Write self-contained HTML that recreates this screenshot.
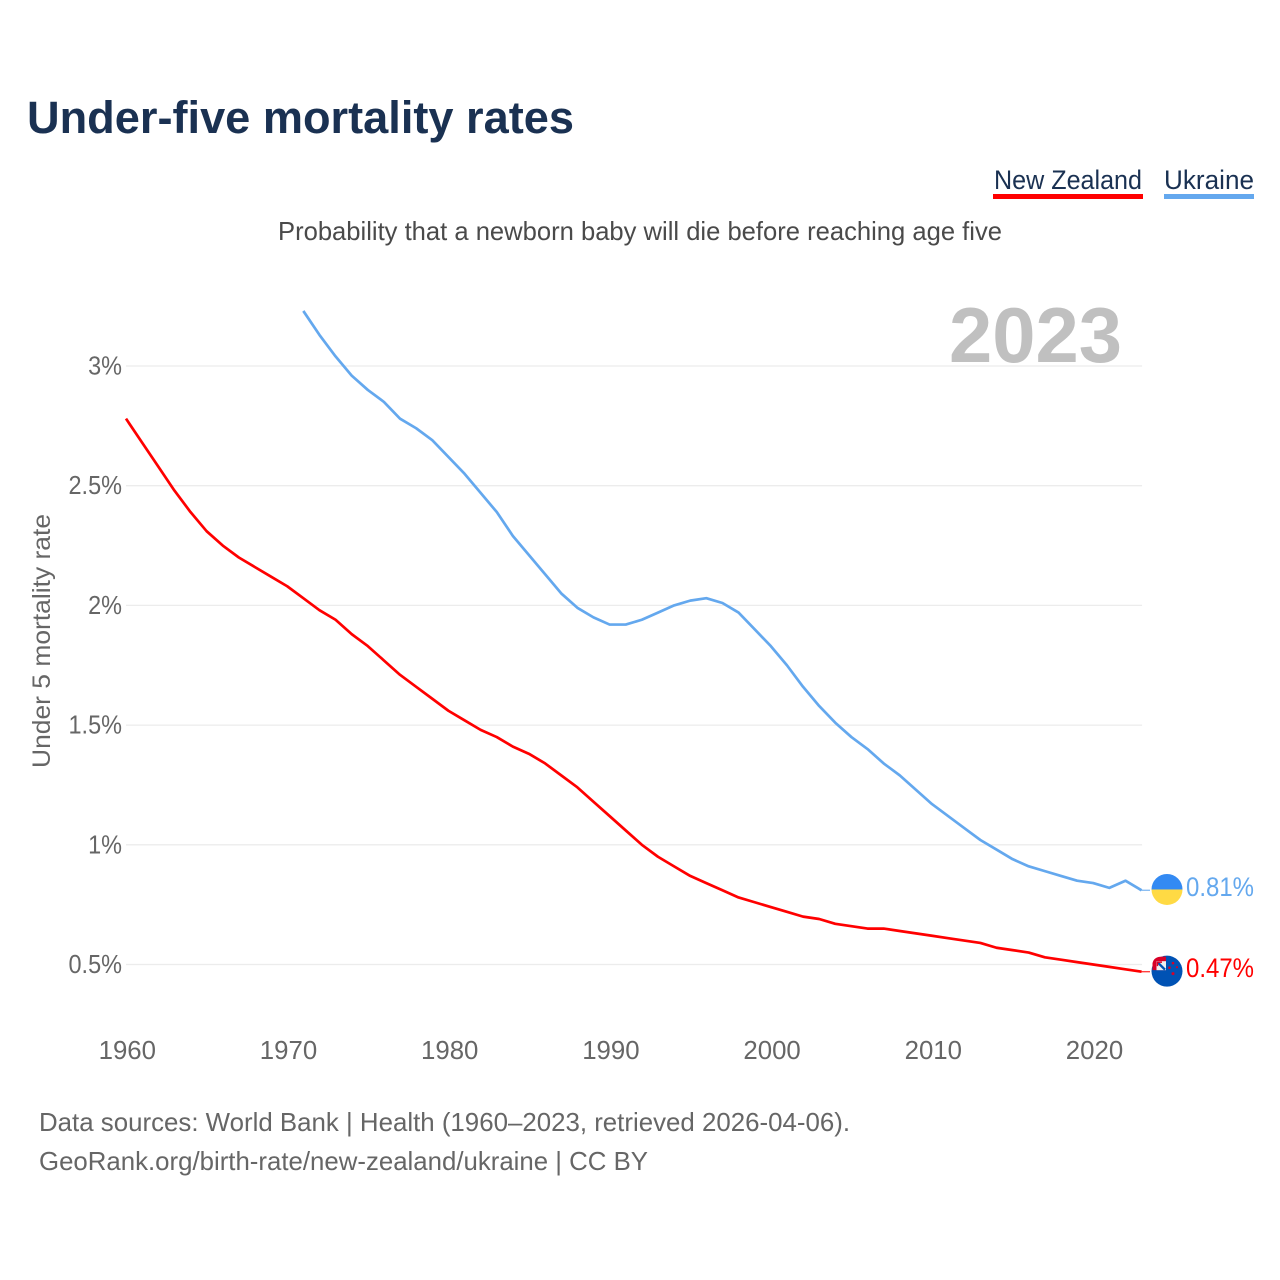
<!DOCTYPE html>
<html lang="en">
<head>
<meta charset="utf-8">
<title>Under-five mortality rates</title>
<style>
html,body{margin:0;padding:0;background:#fff;width:1280px;height:1280px;overflow:hidden}
svg{display:block}
text{font-family:"Liberation Sans",sans-serif}
</style>
</head>
<body>
<svg id="chart" width="1280" height="1280" viewBox="0 0 1280 1280">
  <defs>
    <clipPath id="clip-ua"><circle cx="0" cy="0" r="15.5"/></clipPath>
  </defs>
  <text x="27" y="133" font-size="45" font-weight="700" fill="#1a3152" textLength="547" lengthAdjust="spacingAndGlyphs">Under-five mortality rates</text>
  <g>
    <text x="994" y="189" font-size="26.5" fill="#1a3152" textLength="148" lengthAdjust="spacingAndGlyphs">New Zealand</text>
    <rect x="993" y="194" width="150" height="5" fill="#ff0000"/>
  </g>
  <g>
    <text x="1164" y="189" font-size="26.5" fill="#1a3152" textLength="90" lengthAdjust="spacingAndGlyphs">Ukraine</text>
    <rect x="1164" y="194" width="90" height="5" fill="#64a8ee"/>
  </g>
  <text x="278" y="240" font-size="26" fill="#4a4a4a" textLength="724" lengthAdjust="spacingAndGlyphs">Probability that a newborn baby will die before reaching age five</text>
  <g id="grid"></g>
  <g id="ylabels"></g>
  <g id="xlabels"></g>
  <text x="949" y="362" font-size="78" font-weight="700" fill="#c0c0c0" textLength="173" lengthAdjust="spacingAndGlyphs">2023</text>
  <text transform="translate(50,641) rotate(-90)" text-anchor="middle" font-size="25" fill="#666666" textLength="254" lengthAdjust="spacingAndGlyphs">Under 5 mortality rate</text>
  <g id="series"></g>
  <g id="ends"></g>
  <text x="39" y="1131" font-size="26" fill="#666666" textLength="811" lengthAdjust="spacingAndGlyphs">Data sources: World Bank | Health (1960–2023, retrieved 2026-04-06).</text>
  <text x="39" y="1170" font-size="26" fill="#666666" textLength="609" lengthAdjust="spacingAndGlyphs">GeoRank.org/birth-rate/new-zealand/ukraine | CC BY</text>
</svg>
<script>
var yearTicks = [1960, 1970, 1980, 1990, 2000, 2010, 2020];
var valueTicks = [0.5, 1, 1.5, 2, 2.5, 3];
var valueTickLabels = ['0.5%', '1%', '1.5%', '2%', '2.5%', '3%'];
var nzStartYear = 1960;
var nzValues = [2.78,2.68,2.58,2.48,2.39,2.31,2.25,2.20,2.16,2.12,2.08,2.03,1.98,1.94,1.88,1.83,1.77,1.71,1.66,1.61,1.56,1.52,1.48,1.45,1.41,1.38,1.34,1.29,1.24,1.18,1.12,1.06,1.00,0.95,0.91,0.87,0.84,0.81,0.78,0.76,0.74,0.72,0.70,0.69,0.67,0.66,0.65,0.65,0.64,0.63,0.62,0.61,0.60,0.59,0.57,0.56,0.55,0.53,0.52,0.51,0.50,0.49,0.48,0.47];
var uaStartYear = 1971;
var uaValues = [3.23,3.13,3.04,2.96,2.90,2.85,2.78,2.74,2.69,2.62,2.55,2.47,2.39,2.29,2.21,2.13,2.05,1.99,1.95,1.92,1.92,1.94,1.97,2.00,2.02,2.03,2.01,1.97,1.90,1.83,1.75,1.66,1.58,1.51,1.45,1.40,1.34,1.29,1.23,1.17,1.12,1.07,1.02,0.98,0.94,0.91,0.89,0.87,0.85,0.84,0.82,0.85,0.81];

var NS = 'http://www.w3.org/2000/svg';
var RED = '#ff0000', BLUE = '#64a8ee';
function xScale(year) { return 126 + (year - 1960) * 16.12; }
function yScale(v) { return 1084.2 - v * 239.4; }
function make(tag, attrs, parent) {
  var el = document.createElementNS(NS, tag);
  for (var k in attrs) el.setAttribute(k, attrs[k]);
  parent.appendChild(el);
  return el;
}
var grid = document.getElementById('grid');
var ylabels = document.getElementById('ylabels');
var xlabels = document.getElementById('xlabels');
var seriesG = document.getElementById('series');
var ends = document.getElementById('ends');

valueTicks.forEach(function (v, i) {
  var line = make('line', {x1: xScale(1960), x2: xScale(2023) + 0.5, y1: yScale(v), y2: yScale(v), stroke: '#ececec', 'stroke-width': 1.3}, grid);
  
  
  var t = make('text', {x: 122, y: yScale(v) + 8.5, 'text-anchor': 'end', 'font-size': 25.5, fill: '#666666'}, ylabels);
  t.textContent = valueTickLabels[i];
  
  
  t.setAttribute('textLength', (t.getComputedTextLength() * 0.92).toFixed(1));
  t.setAttribute('lengthAdjust', 'spacingAndGlyphs');
});
yearTicks.forEach(function (yr) {
  var t = make('text', {x: xScale(yr) + 1.3, y: 1059, 'text-anchor': 'middle', 'font-size': 25.8, fill: '#666666'}, xlabels);
  t.textContent = yr;
  
  
});
function drawSeries(values, startYear, color, name) {
  var pts = values.map(function (v, i) { return xScale(startYear + i).toFixed(2) + ',' + yScale(v).toFixed(2); });
  var last = values[values.length - 1];
  var connector = make('line', {x1: xScale(startYear + values.length - 1), x2: 1150, y1: yScale(last), y2: yScale(last), stroke: color, 'stroke-width': 1.4, opacity: 0.75}, seriesG);
  
  
  var line = make('polyline', {points: pts.join(' '), fill: 'none', stroke: color, 'stroke-width': 2.7, 'stroke-linejoin': 'round'}, seriesG);
  
  
  var label = make('text', {x: 1186, y: yScale(last) + 5.5, 'font-size': 26.5, fill: color, textLength: 68, lengthAdjust: 'spacingAndGlyphs'}, ends);
  label.textContent = last.toFixed(2) + '%';
  
  
}
drawSeries(uaValues, uaStartYear, BLUE, 'ukraine-line');
drawSeries(nzValues, nzStartYear, RED, 'new-zealand-line');

var uaY = yScale(uaValues[uaValues.length - 1]);
var ua = make('g', {transform: 'translate(1167,' + (uaY - 0.8) + ')', 'clip-path': 'url(#clip-ua)'}, ends);


make('rect', {x: -16, y: -16, width: 32, height: 16, fill: '#338af3'}, ua);
make('rect', {x: -16, y: 0, width: 32, height: 16, fill: '#ffda44'}, ua);

var nzY = yScale(nzValues[nzValues.length - 1]) - 0.5;
var nz = make('g', {transform: 'translate(1167,' + nzY + ')'}, ends);


make('circle', {cx: 0, cy: 0, r: 15.5, fill: '#0052b4'}, nz);
make('path', {d: 'M-14.5,-1 V-8 Q-13,-14.5 -5,-14.5 H-1 V-1 Z', fill: '#d80027'}, nz);
make('rect', {x: -10.5, y: -10, width: 9.5, height: 9, fill: '#f0f0f0'}, nz);
make('path', {d: 'M-9.5,-9 L-2,-1.5', stroke: '#0052b4', 'stroke-width': 2.4}, nz);
make('path', {d: 'M-9.5,-5 L-9.5,-9 L-5,-9', stroke: '#d80027', 'stroke-width': 1.4, fill: 'none'}, nz);
make('circle', {cx: 6, cy: -8, r: 1.3, fill: '#d80027'}, nz);
make('circle', {cx: 10, cy: -4, r: 1.1, fill: '#d80027'}, nz);
make('circle', {cx: 2.5, cy: -3.5, r: 1.3, fill: '#d80027'}, nz);
make('circle', {cx: 6, cy: 2.5, r: 1.5, fill: '#d80027'}, nz);
</script>
</body>
</html>
